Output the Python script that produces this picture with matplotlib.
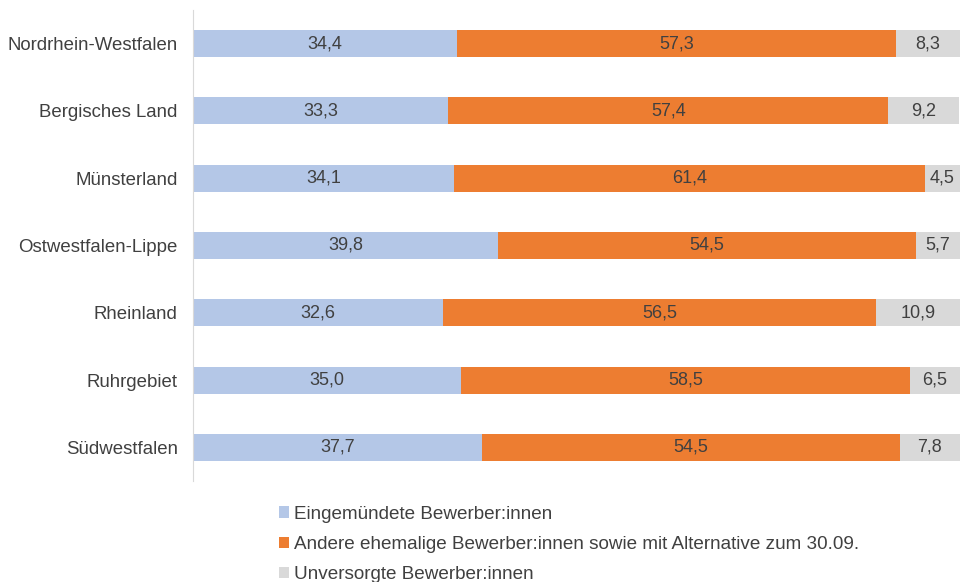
#! /usr/bin/env python3
# -*- coding: utf-8 -*-

import matplotlib
matplotlib.use("Agg")
import matplotlib.pyplot as plt
import numpy as np

## Data

regions = ["Nordrhein-Westfalen", "Bergisches Land", "Münsterland",
           "Ostwestfalen-Lippe", "Rheinland", "Ruhrgebiet", "Südwestfalen"]
eingemuendet = [34.4, 33.3, 34.1, 39.8, 32.6, 35.0, 37.7]
andere = [57.3, 57.4, 61.4, 54.5, 56.5, 58.5, 54.5]
unversorgt = [8.3, 9.2, 4.5, 5.7, 10.9, 6.5, 7.8]

series_names = ["Eingemündete Bewerber:innen",
                "Andere ehemalige Bewerber:innen sowie mit Alternative zum 30.09.",
                "Unversorgte Bewerber:innen"]
colors = ["#B4C7E7", "#ED7D31", "#D9D9D9"]
text_col = "#404040"

## Plot

plt.rcParams['font.family'] = ['Liberation Sans', 'DejaVu Sans']

fig = plt.figure(figsize=(9.62, 5.82), dpi=100)
ax = fig.add_axes([0.2006, 0.1735, 0.797, 0.8095])

y = np.arange(len(regions))
left = np.zeros(len(regions))
for vals, name, col in zip([eingemuendet, andere, unversorgt], series_names, colors):
    vals = np.array(vals)
    bars = ax.barh(y, vals, left=left, height=0.4, color=col, label=name)
    labels = [f"{v:.1f}".replace(".", ",") for v in vals]
    ax.bar_label(bars, labels=labels, label_type="center", fontsize=13, color=text_col)
    left += vals

ax.set_ylim(len(regions) - 0.5, -0.5)
ax.set_xlim(0, 100)
ax.set_yticks(y)
ax.set_yticklabels(regions, fontsize=13.4, color=text_col)
ax.tick_params(axis="y", length=0, pad=11)
ax.set_xticks([])
for s in ["top", "right", "bottom"]:
    ax.spines[s].set_visible(False)
ax.spines["left"].set_color("#D9D9D9")

handles, labs = ax.get_legend_handles_labels()
leg = fig.legend(handles, labs, loc="upper left", bbox_to_anchor=(0.29, 0.131),
                 frameon=False, fontsize=13.6, handlelength=0.55, handleheight=0.55,
                 handletextpad=0.25, labelspacing=0.7, borderpad=0, borderaxespad=0)
for t in leg.get_texts():
    t.set_color(text_col)

fig.savefig("out.png", dpi=100)
